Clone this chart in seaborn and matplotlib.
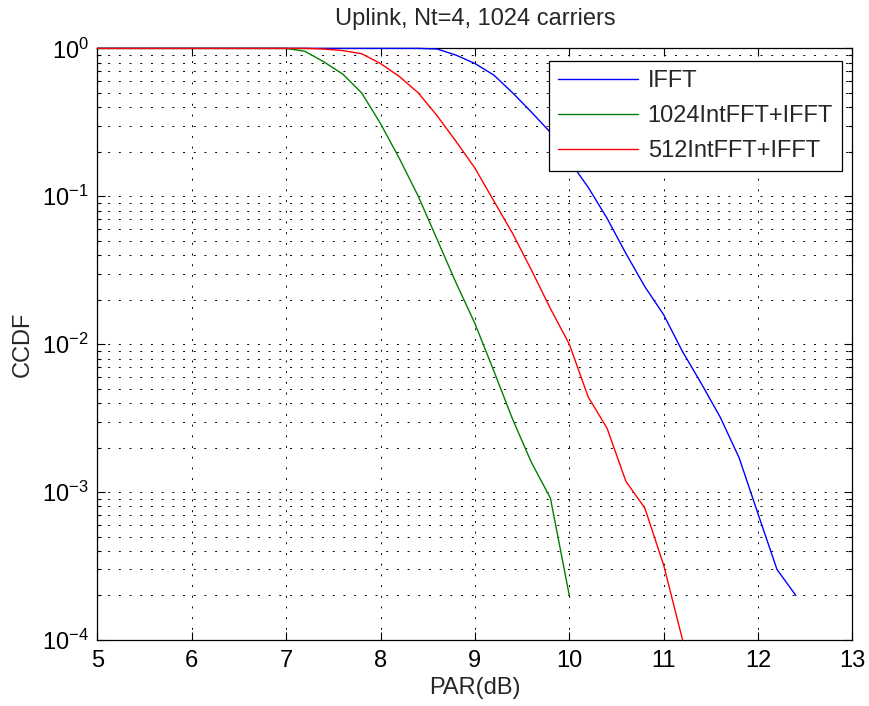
import numpy as np
import pandas as pd
import matplotlib
matplotlib.use("Agg")
import matplotlib.pyplot as plt
import seaborn as sns
from matplotlib.ticker import LogLocator, NullFormatter, LogFormatterSciNotation

# ---- data ----
series_names = ["IFFT", "1024IntFFT+IFFT", "512IntFFT+IFFT"]
colors = ["#0000ff", "#008000", "#ff0000"]

ifft_x = [5.0, 8.4, 8.6, 8.8, 9.0, 9.2, 9.4, 9.6, 9.8, 10.0, 10.2, 10.4, 10.6,
          10.8, 11.0, 11.2, 11.4, 11.6, 11.8, 12.0, 12.2, 12.4]
ifft_y = [1.0, 1.0, 0.99, 0.90, 0.79, 0.66, 0.50, 0.37, 0.27, 0.174, 0.115, 0.071,
          0.041, 0.0245, 0.0158, 0.0089, 0.0054, 0.0032, 0.0017, 0.00071, 0.0003, 0.0002]

int1024_x = [5.0, 7.0, 7.2, 7.4, 7.6, 7.8, 8.0, 8.2, 8.4, 8.6, 8.8, 9.0, 9.2, 9.4,
             9.6, 9.8, 10.0]
int1024_y = [1.0, 1.0, 0.955, 0.81, 0.67, 0.50, 0.31, 0.18, 0.10, 0.051, 0.026,
             0.0138, 0.0066, 0.0031, 0.00158, 0.00091, 0.0002]

int512_x = [5.0, 7.2, 7.4, 7.6, 7.8, 8.0, 8.2, 8.4, 8.6, 8.8, 9.0, 9.2, 9.4, 9.6,
            9.8, 10.0, 10.2, 10.4, 10.6, 10.8, 11.0, 11.2]
int512_y = [1.0, 1.0, 0.99, 0.966, 0.92, 0.79, 0.645, 0.50, 0.35, 0.235, 0.155,
            0.093, 0.056, 0.0316, 0.0174, 0.0100, 0.0044, 0.0027, 0.00118,
            0.00078, 0.00032, 0.0001]

x_ticks = [5, 6, 7, 8, 9, 10, 11, 12, 13]

frames = []
for name, xs, ys in zip(series_names,
                        [ifft_x, int1024_x, int512_x],
                        [ifft_y, int1024_y, int512_y]):
    frames.append(pd.DataFrame({"PAR": xs, "CCDF": ys, "series": name}))
df = pd.concat(frames, ignore_index=True)

# ---- style ----
sns.set_style("ticks")
plt.rcParams["font.family"] = ["Liberation Sans", "DejaVu Sans"]
plt.rcParams["mathtext.fontset"] = "custom"
plt.rcParams["mathtext.rm"] = "Liberation Sans"
plt.rcParams["mathtext.it"] = "Liberation Sans"
plt.rcParams["font.size"] = 17
plt.rcParams["axes.unicode_minus"] = True

FS = 17
fig = plt.figure(figsize=(8.69, 7.06), dpi=100)
ax = fig.add_axes([0.112, 0.0935, 0.869, 0.838])

sns.lineplot(data=df, x="PAR", y="CCDF", hue="series", hue_order=series_names,
             palette=colors, estimator=None, sort=False, linewidth=1.0, ax=ax)
for i, ln in enumerate(ax.get_lines()):
    ln.set_clip_on(False)
    ln.set_zorder(3 + 0.1 * i)

ax.set_yscale("log")
ax.set_xlim(5, 13)
ax.set_ylim(1e-4, 1)
ax.set_xticks(x_ticks)
ax.set_xticklabels([str(t) for t in x_ticks])
ax.yaxis.set_major_locator(LogLocator(base=10, numticks=10))
ax.yaxis.set_minor_locator(LogLocator(base=10, subs=np.arange(2, 10), numticks=50))
ax.yaxis.set_minor_formatter(NullFormatter())
ax.yaxis.set_major_formatter(LogFormatterSciNotation())

grid_ls = (0, (2, 9))
ax.grid(True, which="major", axis="both", color="black", linestyle=grid_ls, linewidth=0.7)
ax.grid(True, which="minor", axis="y", color="black", linestyle=grid_ls, linewidth=0.7)
ax.set_axisbelow(True)

ax.tick_params(which="both", direction="in", top=True, right=True, colors="black",
               labelsize=FS)
ax.tick_params(which="major", length=6, width=0.8)
ax.tick_params(which="minor", length=3, width=0.8)
ax.tick_params(axis="x", which="major", pad=7)
ax.tick_params(axis="y", which="major", pad=6)
for sp in ax.spines.values():
    sp.set_visible(True)
    sp.set_linewidth(0.9)
    sp.set_color("black")

ax.set_xlabel("PAR(dB)", fontsize=FS, labelpad=4)
ax.set_ylabel("CCDF", fontsize=FS, labelpad=6)
ax.set_title("Uplink, Nt=4, 1024 carriers", fontsize=FS, pad=17)

leg = ax.legend(loc="upper right", bbox_to_anchor=(0.986, 0.978), borderaxespad=0,
                fancybox=False, framealpha=1, edgecolor="black", fontsize=FS,
                handlelength=3.4, handletextpad=0.4, labelspacing=0.55,
                borderpad=0.38, title=None)
leg.set_zorder(5)
leg.get_frame().set_linewidth(0.9)
for line in leg.get_lines():
    line.set_linewidth(1.0)

fig.savefig("out.png", dpi=100)
